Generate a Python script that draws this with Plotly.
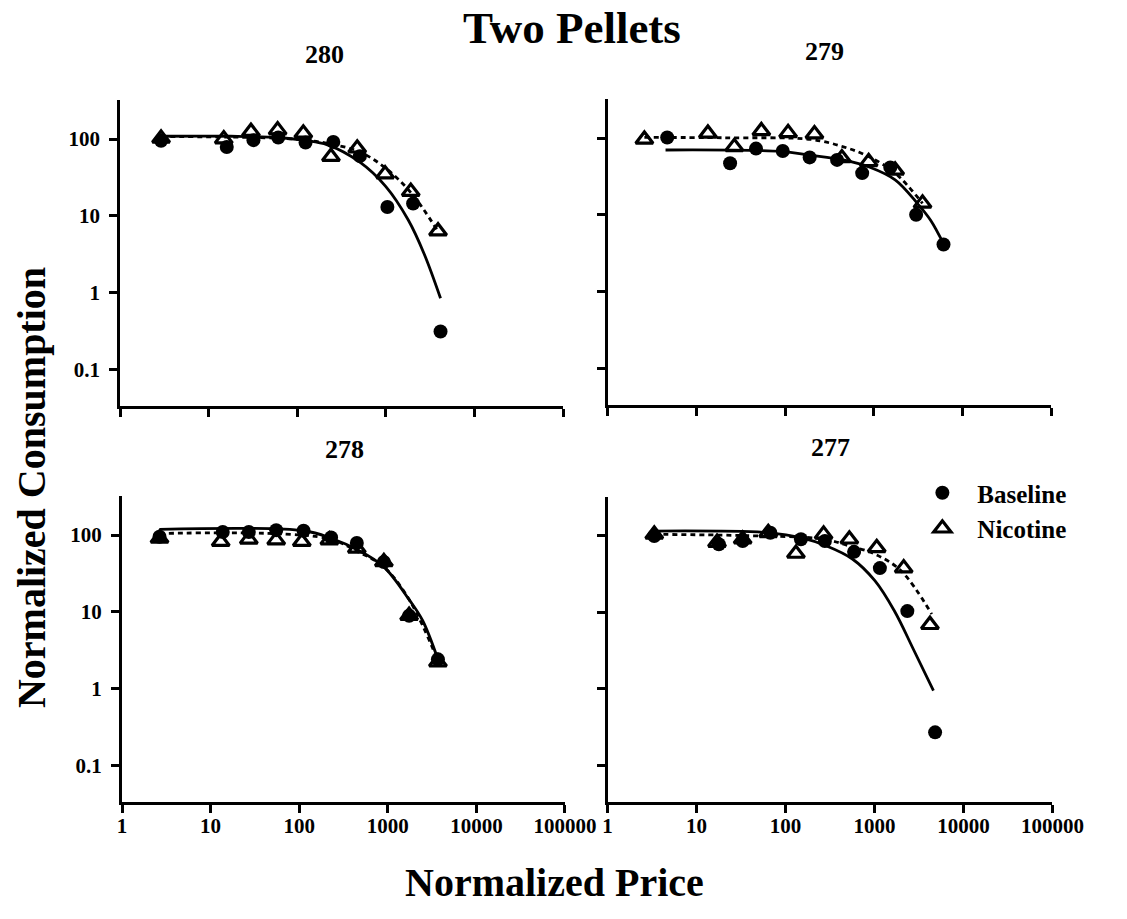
import plotly.graph_objects as go

# ---------------- data ----------------
subjects = ["280", "279", "278", "277"]

base_price_280 = [2.9, 16, 32, 61, 124, 255, 509, 1040, 2030, 4140]
base_cons_280 = [95, 79, 97, 105, 90, 92, 60, 13, 14.5, 0.31]
nic_price_280 = [2.9, 14.8, 30, 60, 117, 240, 475, 980, 1910, 3880]
nic_cons_280 = [102, 100, 125, 131, 119, 59, 76, 35, 20.7, 6.3]
fit_base_price_280 = [2.9, 17.7, 61, 122, 219, 509, 1000, 1790, 2700, 4140]
fit_base_cons_280 = [109, 109, 105, 96, 84, 50, 24, 8.8, 3.2, 0.84]
fit_nic_price_280 = [2.9, 95, 219, 509, 1000, 1950, 3800]
fit_nic_cons_280 = [108, 100, 88, 68, 41.5, 19.6, 6.5]

base_price_279 = [4.7, 24, 47, 94, 189, 385, 738, 1530, 2990, 6080]
base_cons_279 = [102, 47, 73, 68, 56, 52, 35, 41.5, 10, 4.1]
nic_price_279 = [2.6, 13.5, 26.8, 54, 108, 214, 436, 873, 1735, 3530]
nic_cons_279 = [96, 115, 77, 124, 117, 113, 55, 49, 38, 14.1]
fit_base_price_279 = [4.5, 90, 189, 453, 885, 1735, 3100, 4350, 6080]
fit_base_cons_279 = [70, 67, 60, 52, 42, 28.5, 14, 8.5, 4.2]
fit_nic_price_279 = [2.6, 20, 195, 453, 885, 1735, 3530]
fit_nic_cons_279 = [102, 101, 96, 77, 57, 35, 14.1]

base_price_278 = [2.65, 13.7, 27, 55, 112, 229, 447, 903, 1740, 3680]
base_cons_278 = [95, 110, 110, 116, 114, 93, 79, 44.7, 8.9, 2.4]
nic_price_278 = [2.65, 13, 27, 55, 107, 219, 447, 903, 1740, 3680]
nic_cons_278 = [90.6, 82, 88, 86, 82, 86, 67, 44.7, 8.9, 2.2]
fit_base_price_278 = [2.65, 112, 229, 470, 903, 1770, 2470, 3680]
fit_base_cons_278 = [119, 114, 91, 63, 38.5, 14, 7.7, 2.4]
fit_nic_price_278 = [2.65, 203, 470, 903, 1770, 3680]
fit_nic_cons_278 = [105, 91, 60, 38.5, 14, 2.3]

base_price_277 = [3.35, 17.8, 33, 67.5, 149, 277, 590, 1150, 2340, 4800]
base_cons_277 = [100, 78, 86, 110, 90.6, 86, 62, 38, 10.4, 0.27]
nic_price_277 = [3.35, 17, 33, 64, 131, 268, 522, 1060, 2130, 4200]
nic_cons_277 = [105, 82, 90.6, 110, 59, 105, 90.6, 70, 38, 6.9]
fit_base_price_277 = [3.35, 67.5, 149, 290, 565, 1010, 1670, 2770, 4600]
fit_base_cons_277 = [116, 110, 95, 74, 50, 26, 10.5, 3.2, 0.95]
fit_nic_price_277 = [3.35, 36, 268, 522, 1010, 1990, 4400]
fit_nic_cons_277 = [105, 101, 91, 74, 58, 35, 9.5]

x_tickvals = [1, 10, 100, 1000, 10000, 100000]
x_ticktext = ["1", "10", "100", "1000", "10000", "100000"]
y_tickvals = [0.1, 1, 10, 100]
y_ticktext = ["0.1", "1", "10", "100"]

panels = [
    (base_price_280, base_cons_280, nic_price_280, nic_cons_280,
     fit_base_price_280, fit_base_cons_280, fit_nic_price_280, fit_nic_cons_280),
    (base_price_279, base_cons_279, nic_price_279, nic_cons_279,
     fit_base_price_279, fit_base_cons_279, fit_nic_price_279, fit_nic_cons_279),
    (base_price_278, base_cons_278, nic_price_278, nic_cons_278,
     fit_base_price_278, fit_base_cons_278, fit_nic_price_278, fit_nic_cons_278),
    (base_price_277, base_cons_277, nic_price_277, nic_cons_277,
     fit_base_price_277, fit_base_cons_277, fit_nic_price_277, fit_nic_cons_277),
]

# ---------------- layout geometry (pixels) ----------------
W, H = 1127, 919
# (x0, x1, ytop, ybottom) in pixels
boxes = [(119, 577, 100, 406), (623, 1082, 99, 405),
         (121, 579, 496, 802), (623, 1083, 497, 802)]
title_pos = [(330, 55), (847, 51), (351, 449), (854, 447)]

FONT = "Liberation Serif, Times New Roman, serif"

fig = go.Figure()
for i, (bp, bc, npz, nc, fbp, fbc, fnp, fnc) in enumerate(panels):
    xa = "x" if i == 0 else f"x{i+1}"
    ya = "y" if i == 0 else f"y{i+1}"
    fig.add_trace(go.Scatter(x=fbp, y=fbc, mode="lines", xaxis=xa, yaxis=ya,
                             line=dict(color="black", width=2.8, shape="spline", smoothing=1.0),
                             showlegend=False, hoverinfo="skip"))
    fig.add_trace(go.Scatter(x=fnp, y=fnc, mode="lines", xaxis=xa, yaxis=ya,
                             line=dict(color="black", width=2.8, dash="5px,4px",
                                       shape="spline", smoothing=1.0),
                             showlegend=False, hoverinfo="skip"))
    fig.add_trace(go.Scatter(x=bp, y=bc, mode="markers", xaxis=xa, yaxis=ya,
                             name="Baseline", showlegend=(i == 3),
                             marker=dict(symbol="circle", size=14, color="black")))
    fig.add_trace(go.Scatter(x=npz, y=nc, mode="markers", xaxis=xa, yaxis=ya,
                             name="Nicotine", showlegend=(i == 3),
                             marker=dict(symbol="triangle-up-open", size=15, color="black",
                                         line=dict(width=3.2, color="black"))))

layout = dict(
    width=W, height=H, margin=dict(l=0, r=0, t=0, b=0),
    paper_bgcolor="white", plot_bgcolor="white",
    font=dict(family=FONT, color="black"),
    showlegend=True,
    legend=dict(x=933 / W, y=1 - 470 / H, xanchor="left", yanchor="top",
                font=dict(family=FONT, size=25, color="black", weight="bold"),
                bgcolor="rgba(0,0,0,0)", tracegroupgap=0, itemwidth=60,
                borderwidth=0),
)
for i, (x0, x1, yt, yb) in enumerate(boxes):
    xk = "xaxis" if i == 0 else f"xaxis{i+1}"
    yk = "yaxis" if i == 0 else f"yaxis{i+1}"
    ya = "y" if i == 0 else f"y{i+1}"
    xa = "x" if i == 0 else f"x{i+1}"
    layout[xk] = dict(
        type="log", range=[0, 5], domain=[x0 / W, x1 / W], anchor=ya,
        showline=True, linewidth=3, linecolor="black", mirror=False,
        ticks="outside", ticklen=8, tickwidth=3, tickcolor="black",
        tickvals=x_tickvals, ticktext=x_ticktext, ticklabelstandoff=-5,
        showticklabels=(i >= 2), showgrid=False, zeroline=False,
        tickfont=dict(family=FONT, size=21, color="black", weight="bold"),
    )
    layout[yk] = dict(
        type="log", range=[-1.48, 2.51], domain=[1 - yb / H, 1 - yt / H], anchor=xa,
        showline=True, linewidth=3, linecolor="black",
        ticks="outside", ticklen=8, tickwidth=3, tickcolor="black",
        tickvals=y_tickvals, ticktext=y_ticktext, ticklabelstandoff=5,
        showticklabels=(i % 2 == 0), showgrid=False, zeroline=False,
        tickfont=dict(family=FONT, size=21, color="black", weight="bold"),
    )
fig.update_layout(**layout)

annotations = []
for name, (cx, cy) in zip(subjects, title_pos):
    annotations.append(dict(text=name, x=cx / W, y=1 - cy / H, xref="paper", yref="paper",
                            xanchor="center", yanchor="middle", showarrow=False,
                            font=dict(family=FONT, size=26, color="black", weight="bold")))
annotations.append(dict(text="Two Pellets", x=586 / W, y=1 - 28 / H, xref="paper", yref="paper",
                        xanchor="center", yanchor="middle", showarrow=False,
                        font=dict(family=FONT, size=45, color="black", weight="bold")))
annotations.append(dict(text="Normalized Price", x=568 / W, y=1 - 882 / H, xref="paper", yref="paper",
                        xanchor="center", yanchor="middle", showarrow=False,
                        font=dict(family=FONT, size=40, color="black", weight="bold")))
annotations.append(dict(text="Normalized Consumption", x=28 / W, y=1 - 488 / H, xref="paper",
                        yref="paper", xanchor="center", yanchor="middle", showarrow=False,
                        textangle=-90,
                        font=dict(family=FONT, size=40, color="black", weight="bold")))
fig.update_layout(annotations=annotations)

fig.write_html("out.html", config={"displayModeBar": False},
               post_script="document.body.style.margin='0';document.body.style.overflow='hidden';")
